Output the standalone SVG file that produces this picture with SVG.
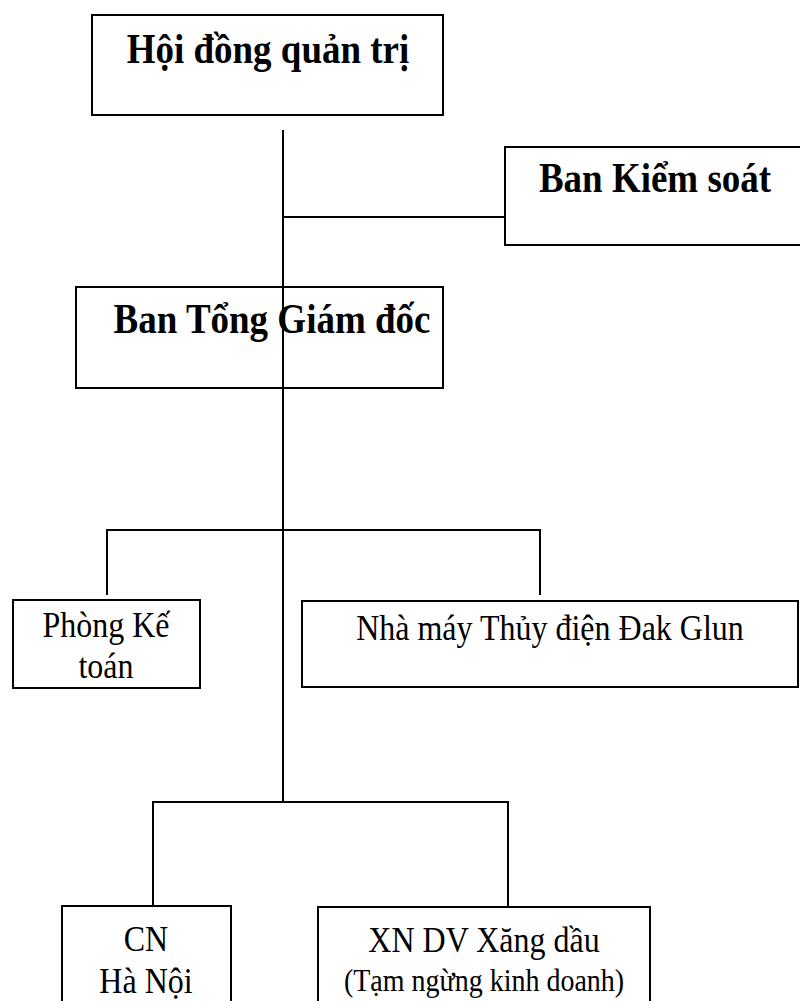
<svg xmlns="http://www.w3.org/2000/svg" width="800" height="1001" viewBox="0 0 800 1001">
<style>
.box{fill:#fff;stroke:#000;stroke-width:2}
.ln{fill:none;stroke:#000;stroke-width:2}
.tb{font-family:"Liberation Serif","Times New Roman",serif;font-weight:bold;font-size:37px;fill:#000;text-anchor:middle}
.tr{font-family:"Liberation Serif","Times New Roman",serif;font-size:32px;fill:#000;text-anchor:middle}
</style>
<rect width="800" height="1001" fill="#fff"/>
<g id="n-hdqt"><rect class="box" x="92" y="15" width="351" height="100"/><text class="tb" transform="translate(268,63) scale(1,1.12)">Hội đồng quản trị</text></g>
<g id="n-bks"><rect class="box" x="505" y="147" width="310" height="98"/><text class="tb" transform="translate(655,192) scale(1,1.12)">Ban Kiểm soát</text></g>
<g id="n-btgd"><rect class="box" x="76" y="287" width="367" height="101"/><text class="tb" transform="translate(272,333) scale(1,1.12)">Ban Tổng Giám đốc</text></g>
<g id="n-pkt"><rect class="box" x="13" y="600" width="187" height="88"/><text class="tr" transform="translate(106,637) scale(1,1.1)">Phòng Kế</text><text class="tr" transform="translate(106,678) scale(1,1.1)">toán</text></g>
<g id="n-nm"><rect class="box" x="302" y="601" width="496" height="86"/><text class="tr" transform="translate(550,640) scale(1,1.1)">Nhà máy Thủy điện Đak Glun</text></g>
<g id="n-cn"><rect class="box" x="62" y="906" width="169" height="110"/><text class="tr" transform="translate(146,951) scale(1,1.1)">CN</text><text class="tr" transform="translate(146,993) scale(1,1.1)">Hà Nội</text></g>
<g id="n-xn"><rect class="box" x="318" y="907" width="332" height="110"/><text class="tr" transform="translate(484,952) scale(1,1.1)">XN DV Xăng dầu</text><text class="tr" transform="translate(484,991) scale(1,1.1)" style="font-size:28px">(Tạm ngừng kinh doanh)</text></g>
<g id="connectors">
<line class="ln" x1="283" y1="130" x2="283" y2="803"/>
<line class="ln" x1="283" y1="217" x2="505" y2="217"/>
<polyline class="ln" points="107,595 107,530 540,530 540,595"/>
<polyline class="ln" points="153,906 153,802 508,802 508,907"/>
</g>
</svg>
